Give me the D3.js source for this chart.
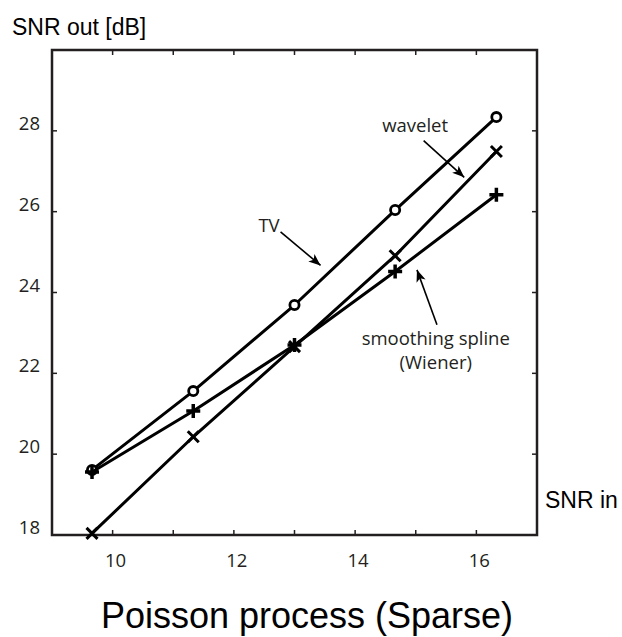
<!DOCTYPE html>
<html lang="en">
  <head>
    <meta charset="UTF-8" />
    <title>Poisson process (Sparse)</title>
    <script src="https://d3js.org/d3.v7.min.js"></script>
    <style>
      body {
        margin: 0;
        background: #fff;
      }
      .tick-label {
        font-family: "Open Sans", sans-serif;
        font-size: 18.5px;
        fill: #231f20;
      }
      .note {
        font-family: "Open Sans", sans-serif;
        font-size: 18.5px;
        fill: #231f20;
      }
      .axis-title {
        font-family: "Liberation Sans", Arial, sans-serif;
        font-size: 23px;
        fill: #000;
      }
      .chart-title {
        font-family: "Liberation Sans", Arial, sans-serif;
        font-size: 36px;
        fill: #000;
      }
    </style>
  </head>
  <body>
    <div id="chart"></div>
    <script>
    // data
    const snrIn = [9.66, 11.33, 13.0, 14.66, 16.33];
    const tvOut = [19.61, 21.56, 23.69, 26.04, 28.34];
    const waveletOut = [18.04, 20.43, 22.66, 24.91, 27.49];
    const splineOut = [19.56, 21.07, 22.7, 24.52, 26.42];

    const xTicks = [10, 11, 12, 13, 14, 15, 16];
    const xTickLabels = [10, 12, 14, 16];
    const yTicks = [18, 20, 22, 24, 26, 28];

    // annotation anchors in data units
    const notes = [
      { lines: ["TV"], tx: 12.58, ty: 25.5, from: [12.77, 25.5], to: [13.43, 24.67] },
      { lines: ["wavelet"], tx: 14.99, ty: 27.98, from: [15.13, 27.76], to: [15.8, 26.85] },
      { lines: ["smoothing spline", "(Wiener)"], tx: 15.33, ty: 22.7, from: [15.35, 23.2], to: [15.02, 24.56] }
    ];

    const margin = { top: 50, right: 85, bottom: 102, left: 52 },
        width = 622 - margin.left - margin.right,
        height = 637 - margin.top - margin.bottom;

    const root = d3.select("#chart")
        .append("svg")
        .attr("width", 622)
        .attr("height", 637);

    const svg = root.append("g")
        .attr("transform", `translate(${margin.left}, ${margin.top})`);

    const x = d3.scaleLinear().domain([9, 17]).range([0, width]);
    const y = d3.scaleLinear().domain([18, 30]).range([height, 0]);

    // arrow head
    root.append("defs").append("marker")
        .attr("id", "head")
        .attr("viewBox", "0 0 10 10")
        .attr("refX", 10)
        .attr("refY", 5)
        .attr("markerWidth", 12)
        .attr("markerHeight", 12)
        .attr("markerUnits", "userSpaceOnUse")
        .attr("orient", "auto")
        .append("path")
        .attr("d", "M0,1 L10,5 L0,9 L2.5,5 Z")
        .attr("fill", "#000");

    // ticks, drawn inward on all four sides
    const tickLen = 5;
    const ticks = svg.append("g").attr("stroke", "#231f20").attr("stroke-width", 1.5);
    xTicks.forEach(t => {
        ticks.append("line").attr("x1", x(t)).attr("x2", x(t)).attr("y1", 0).attr("y2", tickLen);
        ticks.append("line").attr("x1", x(t)).attr("x2", x(t)).attr("y1", height).attr("y2", height - tickLen);
    });
    yTicks.forEach(t => {
        ticks.append("line").attr("x1", 0).attr("x2", tickLen).attr("y1", y(t)).attr("y2", y(t));
        ticks.append("line").attr("x1", width).attr("x2", width - tickLen).attr("y1", y(t)).attr("y2", y(t));
    });

    // box
    svg.append("rect")
        .attr("width", width)
        .attr("height", height)
        .attr("fill", "none")
        .attr("stroke", "#231f20")
        .attr("stroke-width", 2.5);

    // tick labels
    svg.selectAll(".xl")
        .data(xTickLabels)
        .enter()
        .append("text")
        .attr("class", "tick-label")
        .attr("x", d => x(d) + 3)
        .attr("y", height + 32)
        .attr("text-anchor", "middle")
        .text(d => d);

    svg.selectAll(".yl")
        .data(yTicks)
        .enter()
        .append("text")
        .attr("class", "tick-label")
        .attr("x", -12)
        .attr("y", d => y(d) - 1)
        .attr("text-anchor", "end")
        .text(d => d);

    // series
    const series = [
        { values: tvOut, marker: "circle" },
        { values: waveletOut, marker: "x" },
        { values: splineOut, marker: "plus" }
    ];

    const line = d3.line()
        .x((d, i) => x(snrIn[i]))
        .y(d => y(d));

    series.forEach(s => {
        svg.append("path")
            .datum(s.values)
            .attr("d", line)
            .attr("fill", "none")
            .attr("stroke", "#000")
            .attr("stroke-width", 3)
            .attr("stroke-linejoin", "round");

        const g = svg.append("g");
        s.values.forEach((v, i) => {
            const cx = x(snrIn[i]), cy = y(v);
            if (s.marker === "circle") {
                g.append("circle")
                    .attr("cx", cx).attr("cy", cy).attr("r", 4.6)
                    .attr("fill", "#fff").attr("stroke", "#000").attr("stroke-width", 2.8);
            } else if (s.marker === "x") {
                const r = 5.5;
                g.append("path")
                    .attr("d", `M${cx - r},${cy - r}L${cx + r},${cy + r}M${cx - r},${cy + r}L${cx + r},${cy - r}`)
                    .attr("stroke", "#000").attr("stroke-width", 3);
            } else {
                const r = 7;
                g.append("path")
                    .attr("d", `M${cx - r},${cy}L${cx + r},${cy}M${cx},${cy - r}L${cx},${cy + r}`)
                    .attr("stroke", "#000").attr("stroke-width", 3.5);
            }
        });
    });

    // annotations
    notes.forEach(n => {
        n.lines.forEach((t, i) => {
            svg.append("text")
                .attr("class", "note")
                .attr("x", x(n.tx))
                .attr("y", y(n.ty) + i * 24)
                .attr("text-anchor", "middle")
                .text(t);
        });
        svg.append("line")
            .attr("x1", x(n.from[0])).attr("y1", y(n.from[1]))
            .attr("x2", x(n.to[0])).attr("y2", y(n.to[1]))
            .attr("stroke", "#000")
            .attr("stroke-width", 1.6)
            .attr("marker-end", "url(#head)");
    });

    // axis titles
    root.append("text")
        .attr("class", "axis-title")
        .attr("x", 12)
        .attr("y", 35)
        .text("SNR out [dB]");

    root.append("text")
        .attr("class", "axis-title")
        .attr("x", margin.left + width + 8)
        .attr("y", 508)
        .text("SNR in");

    root.append("text")
        .attr("class", "chart-title")
        .attr("x", 307)
        .attr("y", 628)
        .attr("text-anchor", "middle")
        .text("Poisson process (Sparse)");
    </script>
  </body>
</html>
